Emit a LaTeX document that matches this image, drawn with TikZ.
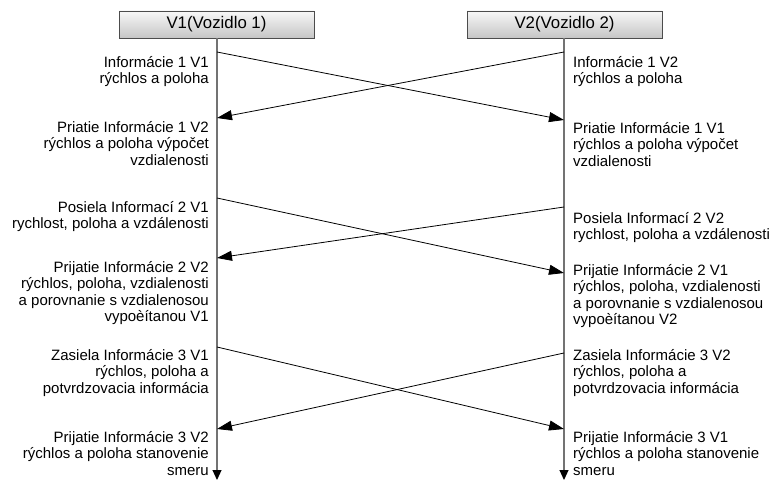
\documentclass[tikz,border=0pt]{standalone}
\usepackage{fontspec}
\setmainfont{Liberation Sans}
\usetikzlibrary{arrows.meta}
\begin{document}
\begin{tikzpicture}[x=1pt,y=-1pt,
  header/.style={draw=black!70,line width=0.9pt,top color=gray!6,bottom color=gray!45,
    minimum width=195pt,minimum height=27pt,inner sep=0pt,
    font=\fontsize{16.8}{19}\selectfont},
  lifeline/.style={draw=black!55,line width=1.1pt,-{Triangle[length=10pt,width=9pt,black]}},
  msg/.style={draw=black,line width=0.8pt,-{Triangle[length=15pt,width=10pt]}},
  ltext/.style={anchor=north east,align=right,inner sep=0pt,
    font=\fontsize{15}{16.5}\selectfont},
  rtext/.style={anchor=north west,align=left,inner sep=0pt,
    font=\fontsize{15}{16.5}\selectfont}]
\useasboundingbox (0,0) rectangle (774,481);

% vehicle headers
\node[header] (h1) at (216.5,24.5) {V1(Vozidlo 1)};
\node[header] (h2) at (564.5,24.5) {V2(Vozidlo 2)};

% lifelines
\coordinate (e1) at (217,480);
\coordinate (e2) at (564,480);
\draw[lifeline] (h1.south -| e1) -- (e1);
\draw[lifeline] (h2.south -| e2) -- (e2);

% send / receive points on the lifelines
\coordinate (s1a) at (217,52);  \coordinate (r1a) at (564,120);
\coordinate (s1b) at (564,52);  \coordinate (r1b) at (217,118);
\coordinate (s2a) at (217,198); \coordinate (r2a) at (564,273);
\coordinate (s2b) at (564,207); \coordinate (r2b) at (217,258);
\coordinate (s3a) at (217,347); \coordinate (r3a) at (564,429);
\coordinate (s3b) at (564,353); \coordinate (r3b) at (217,429);

% messages
\draw[msg] (s1a) -- (r1a);
\draw[msg] (s1b) -- (r1b);
\draw[msg] (s2a) -- (r2a);
\draw[msg] (s2b) -- (r2b);
\draw[msg] (s3a) -- (r3a);
\draw[msg] (s3b) -- (r3b);

% V1 side
\node[ltext] (l1) at (209,56) {Informácie 1 V1\\rýchlos a poloha};
\node[ltext] (l2) at (209,121) {Priatie Informácie 1 V2\\rýchlos a poloha výpočet\\vzdialenosti};
\node[ltext] (l3) at (209,201) {Posiela Informací 2 V1\\rychlost, poloha a vzdálenosti};
\node[ltext] (l4) at (209,261) {Prijatie Informácie 2 V2\\rýchlos, poloha, vzdialenosti\\a porovnanie s vzdialenosou\\vypoèítanou V1};
\node[ltext] (l5) at (209,349) {Zasiela Informácie 3 V1\\rýchlos, poloha a\\potvrdzovacia informácia};
\node[ltext] (l6) at (209,431) {Prijatie Informácie 3 V2\\rýchlos a poloha stanovenie\\smeru};

% V2 side
\node[rtext] (q1) at (573,56) {Informácie 1 V2\\rýchlos a poloha};
\node[rtext] (q2) at (573,122) {Priatie Informácie 1 V1\\rýchlos a poloha výpočet\\vzdialenosti};
\node[rtext] (q3) at (573,212) {Posiela Informací 2 V2\\rychlost, poloha a vzdálenosti};
\node[rtext] (q4) at (573,264) {Prijatie Informácie 2 V1\\rýchlos, poloha, vzdialenosti\\a porovnanie s vzdialenosou\\vypoèítanou V2};
\node[rtext] (q5) at (573,349) {Zasiela Informácie 3 V2\\rýchlos, poloha a\\potvrdzovacia informácia};
\node[rtext] (q6) at (573,431) {Prijatie Informácie 3 V1\\rýchlos a poloha stanovenie\\smeru};
\end{tikzpicture}
\end{document}
